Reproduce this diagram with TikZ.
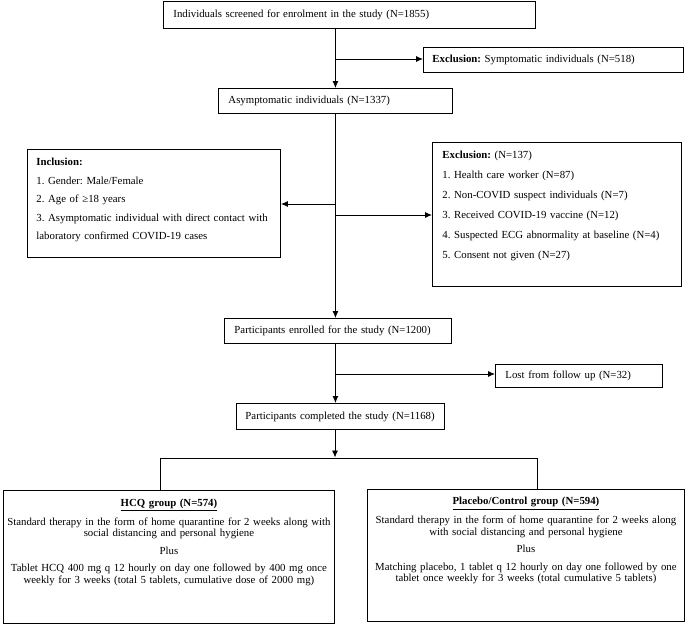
\documentclass[tikz,border=0pt]{standalone}
\usepackage{fontspec}
\setmainfont{Liberation Serif}
\usetikzlibrary{arrows.meta}
\frenchspacing
\begin{document}
\begin{tikzpicture}[x=1pt,y=-1pt,
  box/.style={draw, line width=0.9pt, anchor=north west, inner ysep=0pt, align=left,
    font=\fontsize{10.8}{13}\selectfont\frenchspacing},
  cbox/.style={box, align=center, font=\fontsize{10.8}{11.5}\selectfont\frenchspacing},
  conn/.style={line width=0.9pt},
  arr/.style={conn, -{Latex[length=7pt,width=6pt]}}]
\useasboundingbox (0,0) rectangle (685,625);

\node[box, inner xsep=10pt, text width=352pt, minimum height=27pt] (screen) at (163,1)
  {Individuals screened for enrolment in the study (N=1855)};
\node[box, inner xsep=9pt, text width=242pt, minimum height=25pt] (excl1) at (423,47)
  {\textbf{Exclusion:} Symptomatic individuals (N=518)};
\node[box, inner xsep=10pt, text width=214pt, minimum height=25pt] (asym) at (218,88)
  {Asymptomatic individuals (N=1337)};
\node[box, inner xsep=9pt, text width=235pt, minimum height=108pt,
  font=\fontsize{10.8}{18.5}\selectfont\frenchspacing] (incl) at (27,149)
  {\textbf{Inclusion:}\\
   1. Gender: Male/Female\\
   2. Age of ≥18 years\\
   3. Asymptomatic individual with direct contact with\\
   laboratory confirmed COVID-19 cases\\[-10pt]\mbox{}};
\node[box, inner xsep=10pt, text width=229pt, minimum height=144pt,
  font=\fontsize{10.8}{20}\selectfont\frenchspacing] (excl2) at (432,142)
  {\textbf{Exclusion:} (N=137)\\
   1. Health care worker (N=87)\\
   2. Non-COVID suspect individuals (N=7)\\
   3. Received COVID-19 vaccine (N=12)\\
   4. Suspected ECG abnormality at baseline (N=4)\\
   5. Consent not given (N=27)\\\mbox{}};
\node[box, inner xsep=10pt, text width=207pt, minimum height=25pt] (enrolled) at (224,318)
  {Participants enrolled for the study (N=1200)};
\node[box, inner xsep=10pt, text width=147pt, minimum height=23pt] (lost) at (495,364)
  {Lost from follow up (N=32)};
\node[box, inner xsep=9pt, text width=190pt, minimum height=26pt] (completed) at (236,403)
  {\mbox{Participants completed the study (N=1168)}};
\node[cbox, inner xsep=2pt, text width=327pt, minimum height=133pt] (hcq) at (3,490)
  {\textbf{\underline{HCQ group (N=574)}}\\[6pt]
   Standard therapy in the form of home quarantine for 2 weeks along with\\
   social distancing and personal hygiene\\[6pt]
   Plus\\[6pt]
   Tablet HCQ 400 mg q 12 hourly on day one followed by 400 mg once\\
   weekly for 3 weeks (total 5 tablets, cumulative dose of 2000 mg)\\[20pt]\mbox{}};
\node[cbox, inner xsep=2pt, text width=313pt, minimum height=132pt] (placebo) at (367,489)
  {\textbf{\underline{Placebo/Control group (N=594)}}\\[6pt]
   Standard therapy in the form of home quarantine for 2 weeks along\\
   with social distancing and personal hygiene\\[6pt]
   Plus\\[6pt]
   Matching placebo, 1 tablet q 12 hourly on day one followed by one\\
   tablet once weekly for 3 weeks (total cumulative 5 tablets)\\[20pt]\mbox{}};

\coordinate (b1) at (335,59);
\coordinate (b2) at (335,204);
\coordinate (b3) at (335,215);
\coordinate (b4) at (335,374);
\coordinate (cfrom) at (335,429);
\coordinate (fork) at (335,457.5);
\coordinate (sl) at (160,458);
\coordinate (sr) at (537,458);

\draw[conn] (sl) -- (sr);
\draw[conn] (sl) -- (sl |- hcq.north);
\draw[conn] (sr) -- (sr |- placebo.north);
\draw[arr] (screen.south -| asym.north) -- (asym.north);
\draw[arr] (b1) -- (b1 -| excl1.west);
\draw[arr] (asym.south) -- (asym.south |- enrolled.north);
\draw[arr] (b2) -- (b2 -| incl.east);
\draw[arr] (b3) -- (b3 -| excl2.west);
\draw[arr] (asym.south |- enrolled.south) -- (asym.south |- completed.north);
\draw[arr] (b4) -- (b4 -| lost.west);
\draw[arr] (cfrom) -- (fork);
\end{tikzpicture}
\end{document}
